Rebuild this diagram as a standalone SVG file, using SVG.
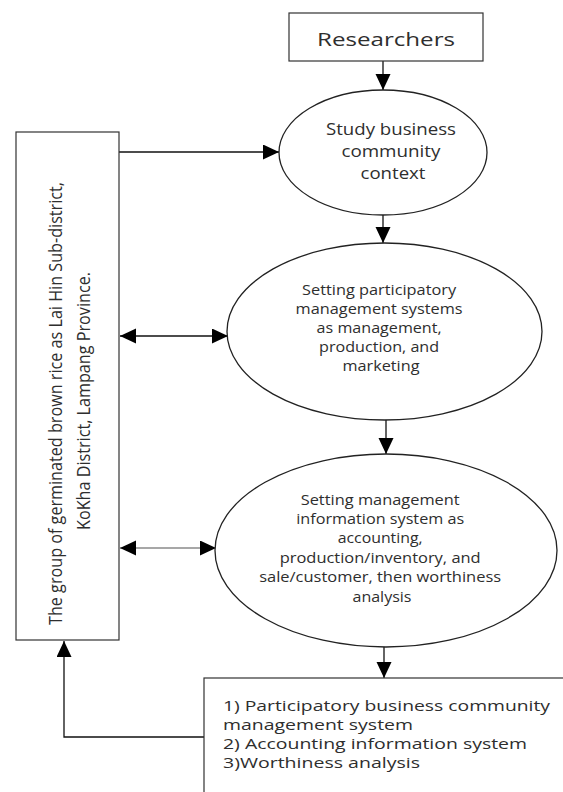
<svg xmlns="http://www.w3.org/2000/svg" width="563" height="792" viewBox="0 0 563 792">
<defs>
<style>
.box{fill:#fff;stroke:#333;stroke-width:1.2}
.ell{fill:#fff;stroke:#222;stroke-width:1.3}
.t{font-family:"Open Sans","Noto Sans",sans-serif;fill:#2e2e2e}
.c{text-anchor:middle}
.ln{fill:none;stroke:#111;stroke-width:1.3}
.gray{stroke:#8a8a8a}
</style>
<marker id="ah" markerUnits="userSpaceOnUse" markerWidth="17" markerHeight="16" refX="16" refY="7.5" orient="auto-start-reverse" viewBox="0 0 17 16">
<path d="M0,0 L16,7.5 L0,15 z" fill="#000"/>
</marker>
</defs>

<g id="connectors">
<line class="ln" x1="383" y1="61" x2="383" y2="90" marker-end="url(#ah)"/>
<line class="ln" x1="119" y1="152" x2="279" y2="152" marker-end="url(#ah)"/>
<line class="ln" x1="383" y1="215" x2="383" y2="243" marker-end="url(#ah)"/>
<line class="ln" x1="120" y1="336" x2="228" y2="336" marker-start="url(#ah)" marker-end="url(#ah)"/>
<line class="ln" x1="386" y1="420" x2="386" y2="454" marker-end="url(#ah)"/>
<line class="ln gray" x1="120" y1="548" x2="216" y2="548" marker-start="url(#ah)" marker-end="url(#ah)"/>
<line class="ln" x1="384" y1="647" x2="384" y2="678" marker-end="url(#ah)"/>
<polyline class="ln" points="204,737 64,737 64,641" marker-end="url(#ah)"/>
</g>

<g id="researchers">
<rect class="box" x="289" y="13" width="194" height="48"/>
<text class="t c" x="386" y="46" font-size="19" textLength="138" lengthAdjust="spacingAndGlyphs">Researchers</text>
</g>

<g id="study">
<ellipse class="ell" cx="383" cy="152.5" rx="104" ry="62.5"/>
<text class="t c" font-size="16">
<tspan x="393" y="135" textLength="130" lengthAdjust="spacingAndGlyphs">Study business</tspan>
<tspan x="393" y="157" textLength="99" lengthAdjust="spacingAndGlyphs">community</tspan>
<tspan x="393" y="179" textLength="65" lengthAdjust="spacingAndGlyphs">context</tspan>
</text>
</g>

<g id="participatory">
<ellipse class="ell" cx="384.5" cy="331.5" rx="157.5" ry="88.5"/>
<text class="t c" font-size="14.5">
<tspan x="381" y="295" textLength="154" lengthAdjust="spacingAndGlyphs">Setting participatory</tspan>
<tspan x="381" y="314" textLength="167" lengthAdjust="spacingAndGlyphs">management systems</tspan>
<tspan x="381" y="333" textLength="125" lengthAdjust="spacingAndGlyphs">as management,</tspan>
<tspan x="381" y="352" textLength="120" lengthAdjust="spacingAndGlyphs">production, and</tspan>
<tspan x="381" y="371" textLength="77" lengthAdjust="spacingAndGlyphs">marketing</tspan>
</text>
</g>

<g id="mis">
<ellipse class="ell" cx="386" cy="550.5" rx="171" ry="96.5"/>
<text class="t c" font-size="14">
<tspan x="382" y="505" textLength="159" lengthAdjust="spacingAndGlyphs">Setting management</tspan>
<tspan x="382" y="524" textLength="168" lengthAdjust="spacingAndGlyphs">information system as</tspan>
<tspan x="382" y="543" textLength="85" lengthAdjust="spacingAndGlyphs">accounting,</tspan>
<tspan x="382" y="563" textLength="201" lengthAdjust="spacingAndGlyphs">production/inventory, and</tspan>
<tspan x="382" y="582" textLength="242" lengthAdjust="spacingAndGlyphs">sale/customer, then worthiness</tspan>
<tspan x="382" y="602" textLength="59" lengthAdjust="spacingAndGlyphs">analysis</tspan>
</text>
</g>

<g id="group">
<rect class="box" x="16" y="132" width="103" height="508"/>
<text class="t c" font-size="18" transform="translate(62,403.5) rotate(-90)" x="0" y="0" textLength="443" lengthAdjust="spacingAndGlyphs">The group of germinated brown rice as Lai Hin Sub-district,</text>
<text class="t c" font-size="18" transform="translate(90,401) rotate(-90)" x="0" y="0" textLength="258" lengthAdjust="spacingAndGlyphs">KoKha District, Lampang Province.</text>
</g>

<g id="results">
<rect class="box" x="204" y="678" width="380" height="130"/>
<text class="t" font-size="14.5">
<tspan x="223" y="711" textLength="327" lengthAdjust="spacingAndGlyphs">1) Participatory business community</tspan>
<tspan x="223" y="730" textLength="190" lengthAdjust="spacingAndGlyphs">management system</tspan>
<tspan x="223" y="749" textLength="304" lengthAdjust="spacingAndGlyphs">2) Accounting information system</tspan>
<tspan x="223" y="768" textLength="197" lengthAdjust="spacingAndGlyphs">3)Worthiness analysis</tspan>
</text>
</g>
</svg>
